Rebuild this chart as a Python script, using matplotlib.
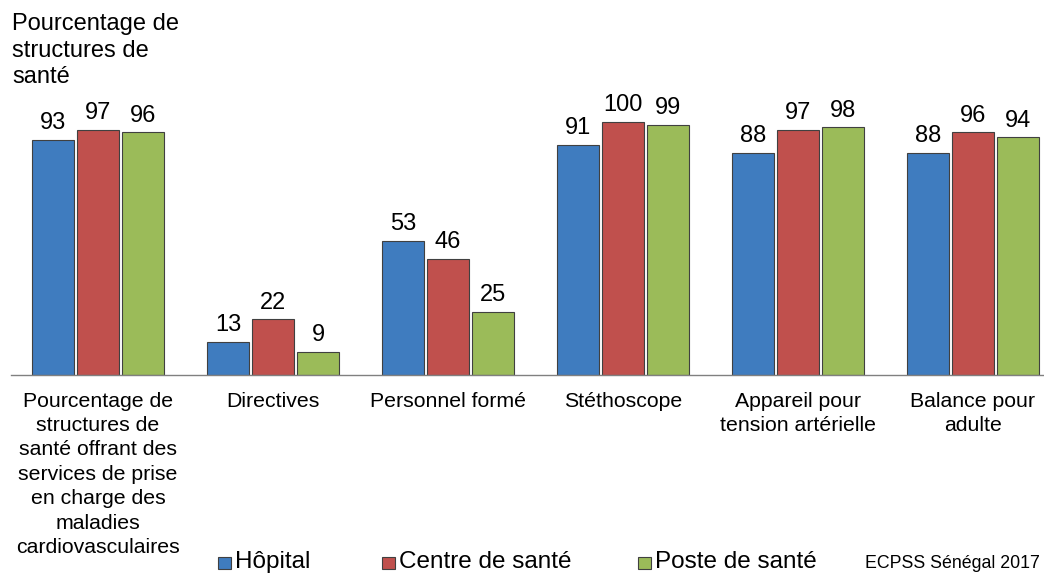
import numpy as np
import matplotlib
matplotlib.use("Agg")
import matplotlib.pyplot as plt
from matplotlib.patches import Rectangle

plt.rcParams['font.family'] = ['Liberation Sans', 'DejaVu Sans']

categories = ["Pourcentage de\nstructures de\nsanté offrant des\nservices de prise\nen charge des\nmaladies\ncardiovasculaires",
              "Directives", "Personnel formé", "Stéthoscope",
              "Appareil pour\ntension artérielle", "Balance pour\nadulte"]
series_names = ["Hôpital", "Centre de santé", "Poste de santé"]
hopital = [93, 13, 53, 91, 88, 88]
centre = [97, 22, 46, 100, 97, 96]
poste = [96, 9, 25, 99, 98, 94]
colors = ["#3F7CBF", "#C0504D", "#9BBB59"]

W, H = 1044, 574
fig = plt.figure(figsize=(W / 100, H / 100), dpi=100)
# axes run a little past the right edge, as in the original export
ax = fig.add_axes([10.5 / W, 1 - 375 / H, 1050 / W, 278 / H])

x = np.arange(len(categories))
offset = 0.257
width = 0.24
for k, (vals, col) in enumerate(zip([hopital, centre, poste], colors)):
    bars = ax.bar(x + (k - 1) * offset, vals, width, color=col,
                  edgecolor="#404040", linewidth=0.8)
    for b, v in zip(bars, vals):
        ax.text(b.get_x() + b.get_width() / 2, v + 2.3, str(v),
                ha="center", va="bottom", fontsize=17)

ax.set_xlim(-0.5, len(categories) - 0.5)
ax.set_ylim(0, 110)
ax.set_yticks([])
ax.set_xticks(x)
ax.set_xticklabels(categories, fontsize=15.3, linespacing=1.36, va="top")
ax.tick_params(axis="x", length=0, pad=12)
for s in ["left", "right", "top"]:
    ax.spines[s].set_visible(False)
ax.spines["bottom"].set_color("#808080")
ax.spines["bottom"].set_linewidth(1.0)

fig.text(12 / W, 1 - 13 / H, "Pourcentage de\nstructures de\nsanté",
         ha="left", va="top", fontsize=17, linespacing=1.27)

# legend drawn by hand to keep the uneven spacing
leg_x = [218, 382, 638]
for lx, name, col in zip(leg_x, series_names, colors):
    fig.patches.append(Rectangle((lx / W, 1 - 569 / H), 13 / W, 12 / H,
                                 transform=fig.transFigure, facecolor=col,
                                 edgecolor="#404040", linewidth=0.8))
    fig.text((lx + 17) / W, 1 - 562 / H, name, ha="left", va="center",
             fontsize=17.5)

fig.text(865 / W, 1 - 564 / H, "ECPSS Sénégal 2017", ha="left", va="center",
         fontsize=12.8)

fig.savefig("out.png", dpi=100)
